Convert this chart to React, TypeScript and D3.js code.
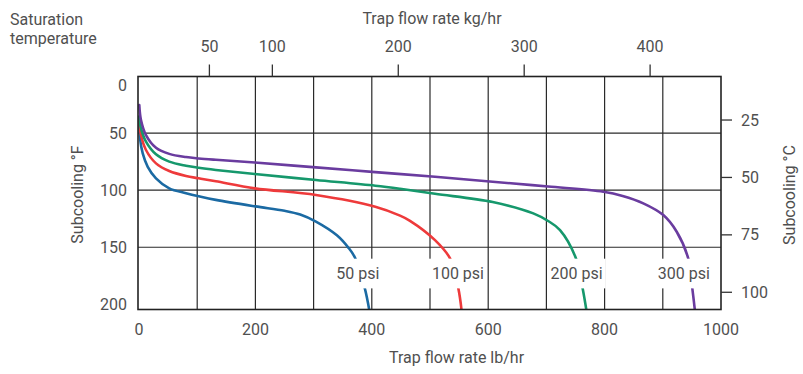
import React, { useEffect, useRef } from 'react';
import * as d3 from 'd3';

const W = 803;
const H = 374;

// Axis ticks
const lbTicks = [0, 200, 400, 600, 800, 1000];
const lbGrid = [100, 200, 300, 400, 500, 600, 700, 800, 900];
const fTicks = [0, 50, 100, 150, 200];
const fGrid = [50, 100, 150];
const cTicks = [25, 50, 75, 100];
const kgTicks = [50, 100, 200, 300, 400];

// Curve labels
const psiLabels = ['50 psi', '100 psi', '200 psi', '300 psi'];
const labelLb = [376, 548, 752, 936];
const labelF = 172.6;
const labelBoxF = [160, 186];

// Series: [lb/hr, subcooling °F]
const psi50: [number, number][] = [
  [0, 37], [1.7, 54.6], [6.4, 67.7], [15, 79.5], [29.2, 89.6], [52, 98.4],
  [80.8, 102.6], [102.6, 105.3], [132, 108.5], [200, 114.2], [250, 118],
  [277, 121.3], [304, 127.5], [340, 139.5], [360, 150.5], [371, 159],
  [388, 186], [396, 206],
];
const psi100: [number, number][] = [
  [0, 36.5], [3.4, 51.7], [12, 64.8], [29.2, 76.5], [52, 83.2], [80.8, 87.6],
  [102.6, 89.6], [132, 92.2], [199, 98.4], [304, 104.2], [406, 114.5],
  [448.5, 122.3], [465.6, 126.8], [508.6, 143.7], [534.4, 159.7],
  [548.7, 186], [554.4, 206],
];
const psi200: [number, number][] = [
  [0, 35.6], [3.4, 45.8], [12, 57.5], [29.2, 68.6], [52, 75], [80.8, 78.6],
  [102.6, 80.4], [132, 82.3], [199, 85.9], [304, 91.1], [406, 96.1],
  [448.5, 98.8], [508.6, 103.2], [607.7, 110.4], [677.5, 120.3], [703, 127],
  [723.4, 134.9], [751, 160], [762.3, 186], [769, 206],
];
const psi300: [number, number][] = [
  [0.5, 25.4], [3.4, 38.5], [12, 51.7], [29.2, 62.8], [52, 68.2], [80.8, 71],
  [102.6, 72.2], [132, 73.4], [199, 75.8], [304, 80], [406, 84.2],
  [508.6, 88.2], [607.7, 92.6], [703, 96.8], [797.8, 101.3], [831, 105],
  [866.5, 111.5], [900.9, 121.8], [923.9, 136.4], [943.8, 160],
  [950.7, 186], [955.3, 206],
];
const seriesList = [psi50, psi100, psi200, psi300];
const colors = ['#1b6aa3', '#ee3a3b', '#16986c', '#6a3c9f'];

const FONT = 'Roboto, "Noto Sans", sans-serif';
const TXT = '#505050';

export default function App() {
  const ref = useRef<SVGSVGElement | null>(null);

  useEffect(() => {
    const svg = d3.select(ref.current);
    svg.selectAll('*').remove();

    const left = 138, right = 721, top = 76.5, bottom = 309.5;
    const x = d3.scaleLinear().domain([0, 1000]).range([139, 721]);
    const y = d3.scaleLinear().domain([0, 204.5]).range([76, 309.5]);
    const yC = d3.scaleLinear().domain([5.83, 107.5]).range([76, 309.5]);
    const xKg = d3.scaleLinear().domain([-6.7, 456.3]).range([138, 721]);

    svg.append('defs').append('clipPath').attr('id', 'plotclip')
      .append('rect').attr('x', left).attr('y', top).attr('width', right - left).attr('height', bottom - top);

    const g = svg.append('g');

    // Grid
    g.selectAll('line.vg').data(lbGrid).enter().append('line')
      .attr('x1', (d) => x(d)).attr('x2', (d) => x(d)).attr('y1', top).attr('y2', bottom)
      .attr('stroke', '#2a2a2a').attr('stroke-width', 1.2);
    g.selectAll('line.hg').data(fGrid).enter().append('line')
      .attr('x1', left).attr('x2', right).attr('y1', (d) => y(d)).attr('y2', (d) => y(d))
      .attr('stroke', '#2a2a2a').attr('stroke-width', 1.2);

    // Curves
    const line = d3.line<[number, number]>()
      .x((d) => x(d[0])).y((d) => y(d[1]))
      .curve(d3.curveCatmullRom.alpha(0.5));
    const cg = g.append('g').attr('clip-path', 'url(#plotclip)');
    seriesList.forEach((s, i) => {
      cg.append('path').attr('d', line(s) as string).attr('fill', 'none')
        .attr('stroke', colors[i]).attr('stroke-width', 2.6)
        .attr('stroke-linecap', 'round').attr('stroke-linejoin', 'round');
    });

    // Curve labels with white boxes
    psiLabels.forEach((lab, i) => {
      const bg = g.append('rect').attr('fill', '#ffffff');
      const t = g.append('text').text(lab)
        .attr('x', x(labelLb[i])).attr('y', y(labelF))
        .attr('text-anchor', 'middle').attr('dominant-baseline', 'central')
        .attr('font-family', FONT).attr('font-size', 16).attr('fill', TXT);
      const bb = (t.node() as SVGTextElement).getBBox();
      bg.attr('x', bb.x - 3).attr('width', bb.width + 6)
        .attr('y', y(labelBoxF[0])).attr('height', y(labelBoxF[1]) - y(labelBoxF[0]));
    });

    // Frame
    g.append('rect').attr('x', left).attr('y', top).attr('width', right - left).attr('height', bottom - top)
      .attr('fill', 'none').attr('stroke', '#222').attr('stroke-width', 1.6);

    const txt = (sel: any) => sel.attr('font-family', FONT).attr('font-size', 16).attr('fill', TXT);

    // Bottom tick labels
    g.selectAll('text.bt').data(lbTicks).enter().append('text')
      .attr('x', (d) => x(d)).attr('y', 335).attr('text-anchor', 'middle')
      .text((d) => String(d)).call(txt);

    // Left tick labels
    g.selectAll('text.lt').data(fTicks).enter().append('text')
      .attr('x', 127).attr('y', (d) => Math.max(y(d), top + 8.5))
      .attr('text-anchor', 'end').attr('dominant-baseline', 'central')
      .text((d) => String(d)).call(txt);

    // Right ticks (°C)
    g.selectAll('line.rt').data(cTicks).enter().append('line')
      .attr('x1', right).attr('x2', right + 11).attr('y1', (d) => yC(d)).attr('y2', (d) => yC(d))
      .attr('stroke', '#333').attr('stroke-width', 1.3);
    g.selectAll('text.rt').data(cTicks).enter().append('text')
      .attr('x', 741).attr('y', (d) => yC(d)).attr('dominant-baseline', 'central')
      .text((d) => String(d)).call(txt);

    // Top ticks (kg/hr)
    g.selectAll('line.tt').data(kgTicks).enter().append('line')
      .attr('x1', (d) => xKg(d)).attr('x2', (d) => xKg(d)).attr('y1', top).attr('y2', 64.5)
      .attr('stroke', '#333').attr('stroke-width', 1.3);
    g.selectAll('text.tt').data(kgTicks).enter().append('text')
      .attr('x', (d) => xKg(d)).attr('y', 51.5).attr('text-anchor', 'middle')
      .text((d) => String(d)).call(txt);

    // Titles
    g.append('text').attr('x', 432).attr('y', 23.5).attr('text-anchor', 'middle')
      .text('Trap flow rate kg/hr').call(txt);
    g.append('text').attr('x', 456.5).attr('y', 363).attr('text-anchor', 'middle')
      .text('Trap flow rate lb/hr').call(txt);
    g.append('text').attr('x', 10).attr('y', 25).text('Saturation').call(txt);
    g.append('text').attr('x', 10).attr('y', 44).text('temperature').call(txt);
    g.append('text').attr('transform', 'translate(83,194.5) rotate(-90)')
      .attr('text-anchor', 'middle').text('Subcooling °F').call(txt);
    g.append('text').attr('transform', 'translate(795,195) rotate(-90)')
      .attr('text-anchor', 'middle').text('Subcooling °C').call(txt);
  }, []);

  return (
    <svg
      ref={ref}
      width={W}
      height={H}
      viewBox={`0 0 ${W} ${H}`}
      style={{ position: 'absolute', left: 0, top: 0, background: '#fff' }}
    />
  );
}
